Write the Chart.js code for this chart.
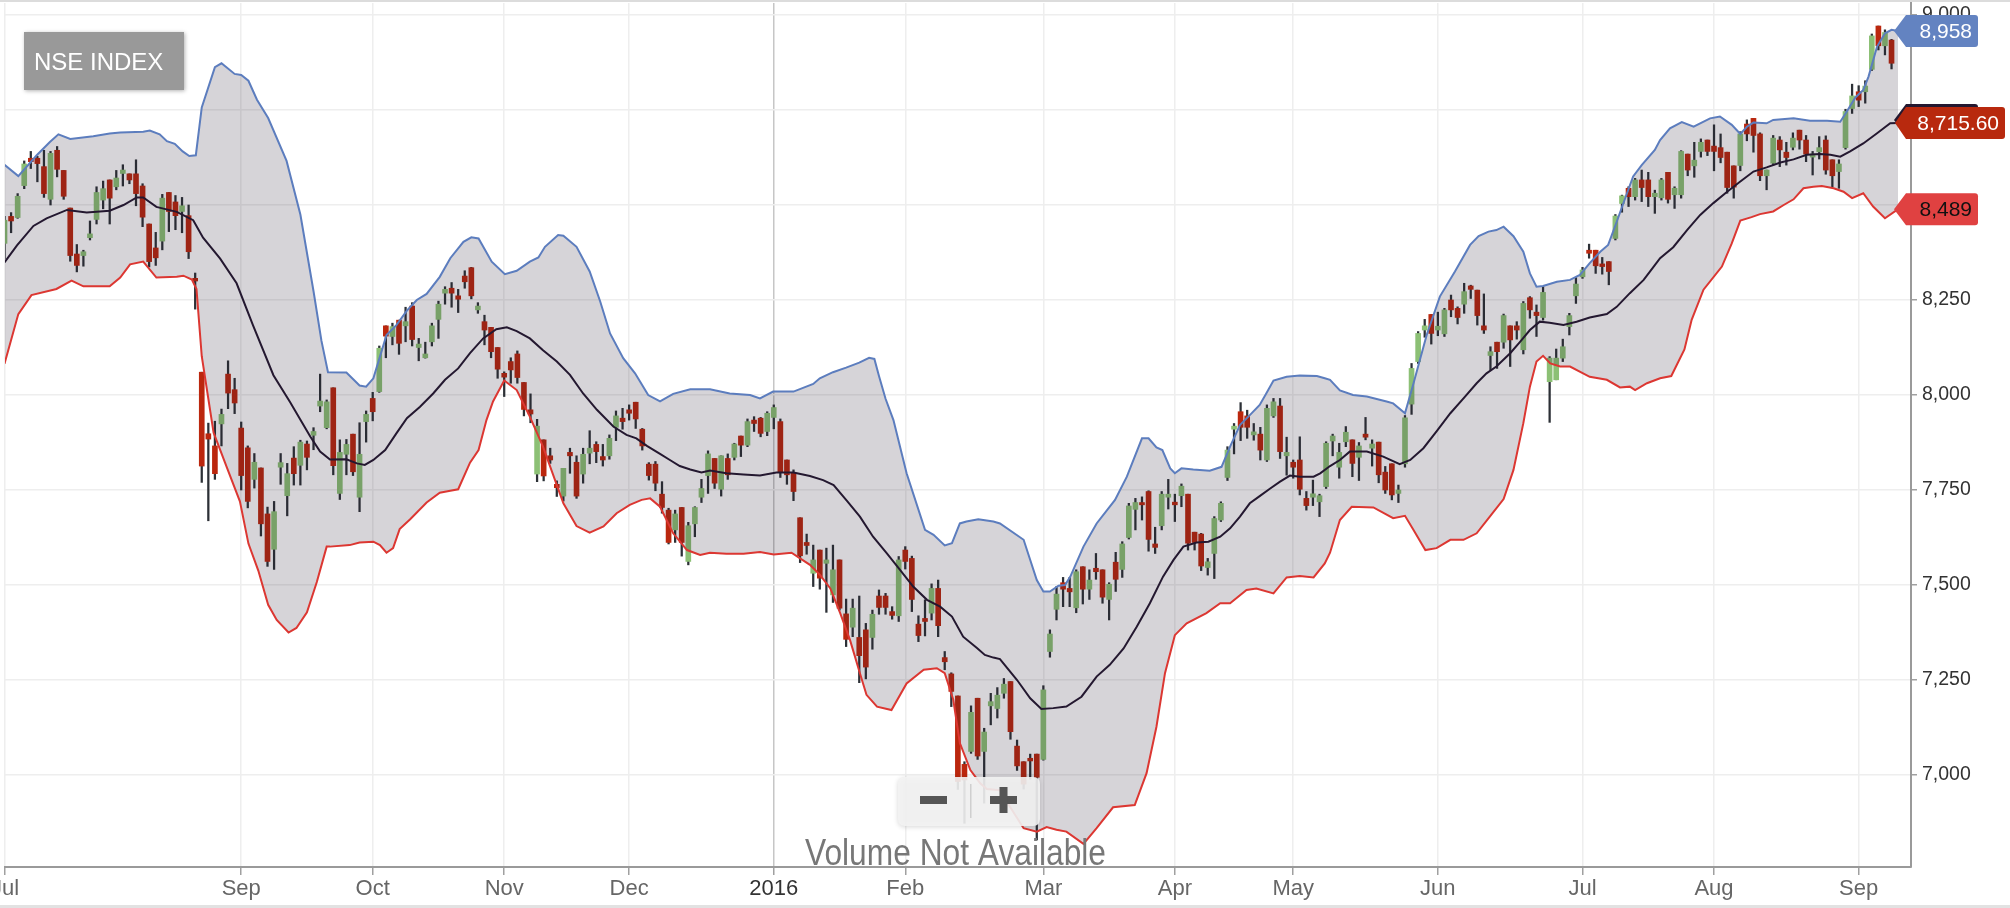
<!DOCTYPE html>
<html><head><meta charset="utf-8">
<script src="https://cdn.jsdelivr.net/npm/chart.js@4.4.1/dist/chart.umd.min.js"></script>
<style>html,body{margin:0;padding:0;background:#fff;overflow:hidden}canvas{display:block}</style>
</head><body>
<canvas id="c" width="2010" height="908"></canvas>
<script>
// ---- data (trading-day index based, NSE index daily OHLC) ----
const opens = [
8399,8470,8467,8551,8623,8623,8601,8515,8644,8591,
8492,8371,8367,8414,8462,8513,8566,8548,8583,8582,
8582,8550,8450,8387,8405,8533,8508,8483,8472,8307,
8060,7898,7866,7924,8055,8014,7913,7861,7778,7808,
7687,7594,7810,7735,7834,7815,7871,7894,7971,7914,
8019,7741,7844,7897,7731,7930,7991,8009,8182,8154,
8197,8182,8234,8125,8098,8140,8199,8268,8281,8261,
8313,8335,8224,8193,8178,8125,8057,8088,8108,8033,
7961,7792,7882,7840,7765,7734,7849,7823,7792,7847,
7870,7838,7840,7915,7939,7961,7981,7910,7818,7818,
7739,7697,7645,7704,7562,7661,7731,7788,7833,7752,
7833,7836,7892,7868,7934,7939,7904,7941,7930,7829,
7794,7677,7612,7531,7592,7557,7474,7566,7424,7389,
7362,7382,7362,7471,7471,7430,7419,7592,7570,7397,
7412,7426,7491,7309,7266,7208,7028,7062,7202,7062,
7182,7175,
7215,7246,7076,7035,7044,7055,7041,7325,7436,7506,
7491,7440,7548,7489,7544,7540,7462,7560,7541,7625,
7699,7717,7746,7608,7656,7731,7718,7735,7739,7639,
7634,7546,7583,7671,7783,7910,7956,7945,7895,7897,
7829,7945,7971,7840,7823,7829,7728,7731,7719,7759,
7879,7810,7877,7882,7836,7897,7860,7876,7797,7819,
7741,7819,7976,8088,8171,8212,8171,8161,8250,8228,
8239,8287,8276,8182,8104,8139,8139,8182,8182,8119,
8256,8218,8204,8035,8040,8097,8180,8261,8311,8381,
8381,8345,8351,8412,8504,8544,8522,8566,8566,8522,
8519,8586,8527,8527,8634,8603,8641,8671,8655,8651,
8639,8603,8604,8713,8728,8687,8577,8610,8671,8639,
8652,8697,8671,8626,8640,8671,8619,8588,8651,8754,
8798,8798,8857,8971,8919,8934];
const highs = [
8470,8480,8530,8616,8641,8628,8644,8641,8654,8591,
8492,8396,8381,8458,8548,8563,8566,8591,8606,8582,
8619,8556,8450,8428,8528,8533,8525,8520,8500,8321,
8060,7926,7931,7963,8090,8044,7929,7866,7846,7808,
7705,7720,7846,7820,7864,7881,7879,7914,8055,7987,
8019,7882,7883,7897,7927,7958,8007,8129,8182,8189,
8197,8231,8243,8149,8139,8189,8247,8285,8296,8278,
8327,8336,8243,8210,8178,8125,8061,8098,8116,8033,
8003,7936,7882,7860,7774,7807,7860,7840,7860,7906,
7877,7870,7895,7958,7965,7974,7981,7912,7822,7825,
7772,7702,7697,7704,7665,7706,7778,7853,7833,7840,
7845,7873,7892,7937,7943,7941,7956,7974,7937,7829,
7803,7677,7634,7605,7592,7597,7605,7566,7463,7463,
7471,7399,7434,7487,7478,7443,7575,7601,7576,7419,
7461,7503,7513,7325,7269,7208,7035,7182,7202,7123,
7215,7230,
7254,7246,7092,7035,7055,7055,7235,7382,7496,7520,
7520,7540,7548,7540,7583,7540,7506,7586,7614,7715,
7728,7732,7748,7652,7746,7778,7739,7766,7739,7639,
7636,7570,7680,7719,7864,7925,7980,7960,7925,7915,
7974,7991,7991,7889,7829,7890,7746,7776,7739,7877,
7897,7873,7917,7882,7875,7941,7882,7876,7812,7819,
7763,7946,8083,8167,8199,8212,8218,8228,8263,8232,
8294,8289,8276,8266,8127,8139,8213,8182,8193,8246,
8259,8237,8285,8101,8121,8147,8215,8309,8336,8397,
8381,8362,8351,8475,8526,8548,8570,8592,8586,8539,
8570,8586,8548,8643,8634,8665,8674,8671,8711,8687,
8639,8603,8693,8724,8728,8690,8592,8683,8680,8665,
8690,8697,8683,8641,8680,8682,8619,8619,8752,8818,
8814,8827,8950,8971,8961,8936];
const lows = [
8359,8427,8465,8543,8596,8561,8520,8500,8574,8515,
8352,8324,8339,8408,8450,8490,8450,8540,8550,8556,
8498,8443,8337,8341,8382,8430,8435,8427,8359,8226,
7770,7669,7778,7866,7964,7951,7750,7703,7755,7629,
7549,7541,7765,7682,7763,7763,7803,7856,7956,7911,
7790,7725,7790,7788,7693,7876,7932,8007,8098,8132,
8107,8140,8129,8090,8097,8129,8149,8239,8231,8217,
8281,8253,8215,8132,8098,8044,7996,8031,8031,7945,
7927,7772,7774,7820,7733,7721,7794,7728,7768,7819,
7822,7813,7831,7880,7910,7934,7912,7855,7776,7748,
7689,7608,7612,7576,7553,7627,7717,7741,7754,7734,
7778,7829,7838,7864,7904,7890,7893,7911,7783,7765,
7722,7559,7581,7496,7489,7428,7454,7434,7338,7364,
7243,7253,7331,7423,7423,7410,7404,7542,7430,7351,
7366,7408,7364,7277,7180,6962,6873,7057,7041,6926,
7132,7150,
7202,7094,7012,6963,6989,6829,7039,7310,7408,7443,
7443,7427,7450,7462,7515,7452,7408,7483,7520,7621,
7645,7671,7589,7583,7645,7700,7667,7706,7592,7592,
7538,7526,7517,7667,7775,7845,7880,7886,7881,7829,
7825,7941,7833,7789,7781,7737,7697,7709,7680,7754,
7840,7781,7864,7785,7775,7882,7813,7769,7741,7724,
7717,7810,7949,8083,8152,8134,8156,8154,8206,8187,
8215,8254,8184,8162,8066,8070,8123,8075,8147,8108,
8202,8154,8197,7928,8040,8088,8158,8241,8307,8360,
8320,8318,8290,8408,8481,8496,8513,8509,8496,8478,
8513,8505,8491,8518,8577,8573,8626,8630,8590,8611,
8531,8518,8590,8669,8639,8564,8540,8605,8601,8605,
8645,8647,8614,8579,8621,8581,8548,8544,8647,8741,
8759,8768,8854,8908,8895,8858];
const closes = [
8460,8458,8523,8608,8614,8609,8530,8636,8594,8523,
8367,8341,8377,8424,8533,8543,8518,8571,8592,8566,
8530,8468,8351,8361,8518,8483,8472,8498,8377,8300,
7813,7884,7793,7949,8005,7979,7788,7720,7823,7661,
7562,7693,7822,7793,7793,7876,7836,7904,7984,7982,
7814,7849,7870,7798,7844,7949,7956,8123,8155,8180,
8136,8193,8146,8134,8108,8182,8239,8278,8268,8252,
8298,8261,8234,8171,8114,8068,8047,8066,8046,7962,
7950,7918,7787,7829,7756,7807,7840,7734,7844,7860,
7851,7829,7886,7945,7930,7952,7937,7866,7788,7768,
7704,7612,7687,7612,7656,7704,7754,7845,7768,7840,
7790,7871,7868,7930,7925,7899,7952,7967,7796,7790,
7746,7577,7604,7566,7518,7566,7540,7439,7357,7439,
7314,7284,7423,7441,7441,7420,7566,7562,7462,7367,
7404,7491,7393,7298,7220,6983,6987,7165,7050,7113,
7193,7210,
7239,7114,7024,6976,7037,6994,7224,7371,7476,7489,
7482,7535,7489,7513,7535,7468,7502,7515,7608,7708,
7717,7711,7620,7599,7739,7739,7711,7760,7610,7612,
7550,7561,7675,7715,7855,7918,7915,7915,7903,7855,
7965,7982,7851,7849,7810,7752,7709,7740,7735,7873,
7892,7849,7902,7820,7866,7889,7871,7790,7750,7737,
7750,7940,8070,8162,8182,8162,8181,8224,8224,8204,
8272,8278,8209,8171,8114,8114,8209,8145,8171,8241,
8224,8209,8270,8097,8097,8127,8209,8292,8329,8373,
8340,8338,8325,8471,8524,8522,8566,8546,8522,8531,
8566,8515,8544,8641,8592,8618,8665,8641,8641,8625,
8546,8547,8687,8687,8683,8577,8592,8676,8645,8625,
8676,8671,8634,8634,8651,8592,8577,8608,8746,8787,
8776,8813,8945,8919,8954,8873];

// Bollinger band lines: [trading-day index, value]
const upperBand = [[0,8606],[2.1,8576],[4.9,8631],[6.9,8666],[8.2,8686],[10,8674],[13.5,8681],[16,8688],[17.6,8691],[21.1,8693],[22.1,8696],[23.6,8686],[24.7,8668],[25.9,8661],[27.1,8641],[28.1,8629],[29.1,8631],[30,8757],[32,8863],[33,8873],[35,8845],[36,8842],[37.1,8827],[38.4,8777],[40.1,8729],[42.9,8616],[45,8475],[47,8273],[48.2,8143],[49.2,8060],[52,8059],[54,8025],[55,8022],[56.1,8044],[57.1,8101],[58.1,8158],[59.6,8184],[61.2,8222],[62.7,8250],[64.2,8266],[66.2,8311],[67.8,8360],[69.8,8403],[71,8415],[72.1,8412],[74.1,8351],[76.1,8318],[77.9,8327],[79.9,8351],[81.2,8362],[82.2,8390],[84.2,8421],[85,8419],[87,8390],[89,8325],[90.6,8246],[92.1,8162],[94.1,8097],[95.9,8057],[97.9,8000],[99.7,7983],[101.7,8003],[104.3,8015],[107.3,8015],[110.3,8004],[113.4,8000],[114.9,7991],[116.9,8009],[120,8009],[123,8029],[124,8044],[126,8060],[128,8072],[130,8085],[131.5,8098],[132.3,8095],[133,8050],[134,7990],[135.2,7934],[137.2,7794],[140,7645],[141.3,7632],[143,7604],[144.1,7610],[145.3,7662],[146.3,7667],[148.1,7673],[150.4,7667],[151.4,7662],[155,7619],[157,7513],[158,7483],[159,7483],[160.3,7498],[161.3,7500],[162.1,7522],[164.1,7601],[166.1,7662],[168.9,7724],[170.7,7785],[173,7886],[174,7886],[175.2,7862],[176.1,7855],[177.3,7807],[178,7794],[179,7807],[180.8,7804],[183.3,7801],[185.1,7811],[186.4,7864],[187.9,7921],[189.4,7947],[190.9,7974],[191.9,8004],[193,8038],[195,8048],[197,8051],[199.6,8050],[200.8,8044],[201.6,8040],[203.1,8012],[205.1,8000],[207.2,7996],[210.2,7983],[211.2,7978],[213,7952],[214.3,8031],[216.3,8158],[218.3,8259],[220.6,8325],[222.9,8395],[224.2,8418],[225.7,8430],[226.9,8434],[228,8443],[229.5,8418],[231,8377],[232,8320],[233,8285],[234,8287],[236.1,8298],[238.1,8303],[239.6,8316],[241.1,8347],[242.7,8377],[243.9,8395],[245.2,8456],[246.2,8504],[247.7,8575],[249,8605],[251,8645],[251.8,8671],[253.3,8702],[255.1,8718],[256.9,8706],[259.4,8728],[260.9,8733],[262.7,8711],[264,8687],[265,8706],[266,8717],[268,8715],[269,8724],[272.1,8728],[274.6,8722],[277.2,8722],[279.2,8719],[280.2,8746],[281.5,8783],[282.7,8803],[283.5,8838],[284.8,8917],[286,8952],[287,8961],[288,8958]];
const middleBand = [[0,8349],[1.9,8394],[4.4,8445],[6.4,8465],[9.5,8487],[12.5,8480],[16,8485],[18.1,8500],[20.1,8520],[21.1,8520],[23.1,8495],[26.2,8482],[28.7,8460],[30.2,8414],[32.8,8359],[35.3,8294],[37.8,8183],[40.9,8052],[43.4,7982],[46.5,7891],[48,7851],[49.5,7830],[52,7831],[53.6,7820],[54.8,7816],[56.1,7829],[57.9,7855],[59.6,7899],[61.2,7939],[63.2,7969],[65.2,8004],[67,8040],[69,8070],[70.8,8110],[72.8,8149],[74.8,8173],[76.4,8178],[77.9,8168],[79.9,8149],[81.9,8118],[84,8088],[86,8053],[88,8004],[90.1,7961],[92.6,7917],[94.6,7895],[96.1,7886],[97.7,7866],[99.7,7845],[101.2,7829],[102.7,7813],[104.3,7804],[106,7796],[107.3,7801],[109.8,7794],[112.4,7791],[114.9,7788],[117.4,7796],[120,7796],[122.5,7787],[124.5,7776],[126.1,7763],[128.1,7722],[130.1,7680],[132.1,7627],[134.2,7583],[136.2,7540],[138.2,7496],[140.3,7461],[142.3,7443],[144.1,7417],[145.8,7364],[147.9,7334],[149.1,7316],[150.4,7309],[151.4,7305],[154,7250],[156,7202],[157.7,7174],[159.5,7176],[161.5,7180],[163.8,7206],[166.1,7259],[168.1,7290],[170.2,7333],[172.2,7390],[174.2,7452],[176.2,7522],[177.8,7566],[179.3,7601],[181.3,7612],[183.1,7614],[184.9,7627],[186.4,7649],[187.9,7680],[189.4,7715],[190.9,7734],[192.5,7754],[194,7772],[195.5,7788],[197,7785],[199.1,7785],[200.1,7794],[201.6,7813],[203.1,7829],[204.6,7851],[207.2,7851],[209.7,7838],[212.2,7818],[213.8,7829],[215.8,7860],[217.8,7904],[219.9,7952],[221.9,7991],[223.9,8031],[225.4,8057],[226.9,8075],[229,8110],[230.5,8140],[232,8171],[233.5,8193],[235,8190],[237.1,8184],[239.1,8193],[241.1,8204],[243.7,8213],[245.2,8232],[247.2,8268],[249.3,8303],[251,8342],[251.8,8360],[253.8,8389],[255.9,8434],[257.9,8474],[259.9,8505],[262,8535],[264,8562],[266,8588],[268,8599],[270.1,8612],[272.1,8620],[274.1,8632],[276.1,8634],[277.7,8632],[279.2,8627],[280.7,8641],[282.7,8662],[284.8,8689],[286.8,8715],[288,8716]];
const lowerBand = [[0,8082],[2.1,8213],[4.1,8263],[7.9,8279],[10.2,8301],[12,8286],[16,8286],[17.6,8309],[19.1,8344],[21.1,8351],[23.1,8309],[26.2,8311],[27.2,8314],[28.5,8304],[29.2,8279],[30,8102],[31.8,7901],[33.8,7810],[35.8,7720],[37.1,7609],[38.6,7538],[40.1,7448],[41.4,7408],[43.2,7375],[44.4,7387],[46,7428],[47.5,7508],[49,7601],[49.5,7601],[52.5,7605],[54,7612],[56.1,7614],[57.1,7605],[58.1,7585],[59.1,7597],[60.1,7647],[61.7,7673],[64.2,7717],[66.2,7743],[67.8,7748],[69,7752],[70.8,7822],[72.1,7855],[73.3,7934],[74.3,7983],[76,8038],[77.9,8013],[79.9,7943],[81.9,7864],[85,7715],[87,7655],[89,7638],[91.1,7654],[93.1,7689],[95.1,7711],[96.9,7724],[98.2,7728],[99.7,7706],[101.7,7636],[103.8,7592],[105.8,7579],[107.3,7585],[109.8,7582],[112.4,7582],[114.9,7587],[117,7580],[119.7,7585],[121,7570],[122.5,7553],[124,7527],[125.6,7491],[127.1,7426],[128.6,7355],[130.1,7268],[131.1,7211],[132.7,7180],[134.9,7171],[137.2,7241],[139.8,7277],[141.8,7281],[143,7268],[144.3,7198],[145.3,7084],[146.9,7013],[148.4,6978],[149.4,6963],[151.4,6960],[152.9,6917],[155,6860],[157,6851],[158.5,6863],[160,6856],[161.5,6851],[164.1,6819],[166.1,6860],[168.6,6915],[171.9,6921],[173.7,7005],[175.2,7127],[176.5,7268],[178,7368],[179.8,7399],[182.8,7426],[184.9,7452],[186.4,7452],[188.9,7487],[190.4,7491],[193,7478],[195,7520],[197,7524],[199.1,7520],[200.8,7557],[201.6,7585],[203.1,7671],[204.9,7706],[208.2,7704],[211.2,7676],[213,7682],[214.3,7645],[216.1,7592],[217.8,7597],[219.9,7619],[221.9,7619],[223.9,7636],[225.9,7680],[228,7726],[229.5,7803],[231,7926],[232,8022],[233,8088],[234,8103],[235.1,8083],[236.6,8075],[238.1,8075],[241.1,8048],[243.7,8040],[245.7,8020],[247.2,8022],[248,8013],[249.8,8031],[251.8,8044],[253.5,8050],[255.5,8120],[256.6,8198],[258.4,8277],[261.2,8338],[262.7,8399],[264,8459],[265.7,8468],[267,8476],[269,8483],[270.6,8500],[272.1,8515],[273.6,8544],[275.1,8548],[276.4,8550],[278.2,8544],[279.7,8535],[281,8518],[282.7,8531],[284.2,8496],[286,8465],[288,8489]];

const monthTickIdx = [0.1, 36, 56, 76, 95, 117, 137, 158, 178, 196, 218, 240, 260, 282];
const monthLabels = ['Jul','Sep','Oct','Nov','Dec','2016','Feb','Mar','Apr','May','Jun','Jul','Aug','Sep'];
const yTicks = [7000, 7250, 7500, 7750, 8000, 8250, 8500, 8750, 9000];
const yTicksHiddenByLabels = [8750];
const upperLast = 8958, middleLast = 8715.60, lowerLast = 8489;
const titleText = 'NSE INDEX';
const volumeNote = 'Volume Not Available';

// ---- styling ----
const FONT = '"Liberation Sans", Arial, Helvetica, sans-serif';
const UP = '#8cc075', DOWN = '#bb270e', WICK = '#2c3036';
const BAND_FILL = 'rgba(36,24,50,0.19)';
const X_MIN = 0.076, X_MAX = 289.96, Y_MIN = 6757.9, Y_MAX = 9031.6;

const idx = closes.map((_, i) => i);
const wickData = idx.map(i => ({x: i, y: [lows[i], highs[i]]}));
const bodyData = idx.map(i => ({x: i, y: [opens[i], closes[i]]}));
const bodyColors = idx.map(i => closes[i] >= opens[i] ? UP : DOWN);
const toXY = arr => arr.map(p => ({x: p[0], y: p[1]}));

function rrect(c, x, y, w, h, r) {
  c.beginPath();
  c.moveTo(x + r, y); c.lineTo(x + w - r, y); c.quadraticCurveTo(x + w, y, x + w, y + r);
  c.lineTo(x + w, y + h - r); c.quadraticCurveTo(x + w, y + h, x + w - r, y + h);
  c.lineTo(x + r, y + h); c.quadraticCurveTo(x, y + h, x, y + h - r);
  c.lineTo(x, y + r); c.quadraticCurveTo(x, y, x + r, y); c.closePath();
}
function callout(c, tipX, y, left, right, fill, text, textColor) {
  const h = 32, top = y - h / 2, bot = y + h / 2, r = 3;
  c.beginPath();
  c.moveTo(tipX, y); c.lineTo(left, top); c.lineTo(right - r, top);
  c.quadraticCurveTo(right, top, right, top + r); c.lineTo(right, bot - r);
  c.quadraticCurveTo(right, bot, right - r, bot); c.lineTo(left, bot); c.closePath();
  c.fillStyle = fill; c.fill();
  c.fillStyle = textColor; c.font = '21px ' + FONT; c.textAlign = 'right'; c.textBaseline = 'middle';
  c.fillText(text, right - 6, y + 1);
}

const overlay = {
  id: 'overlay',
  afterDraw(chart) {
    const c = chart.ctx, ys = chart.scales.y;
    c.save();
    // container borders
    c.fillStyle = '#dcdcdc'; c.fillRect(0, 0, 2010, 2);
    c.fillStyle = '#e2e2e2'; c.fillRect(0, 905, 2010, 3);
    // title box
    c.save();
    c.shadowColor = 'rgba(0,0,0,0.3)'; c.shadowBlur = 4; c.shadowOffsetX = 1; c.shadowOffsetY = 1;
    c.fillStyle = '#999999'; c.fillRect(24, 32, 160, 58);
    c.restore();
    c.fillStyle = '#ffffff'; c.font = '24px ' + FONT; c.textAlign = 'left'; c.textBaseline = 'alphabetic';
    c.fillText(titleText, 34, 70);
    // zoom buttons
    c.save();
    c.shadowColor = 'rgba(0,0,0,0.18)'; c.shadowBlur = 5; c.shadowOffsetY = 1;
    rrect(c, 898, 777, 142, 49, 7); c.fillStyle = 'rgba(243,243,243,0.9)'; c.fill();
    c.restore();
    c.fillStyle = '#555'; c.fillRect(920, 796, 27, 8);
    c.fillRect(990, 796, 27, 8); c.fillRect(999.5, 787, 8, 26);
    c.fillStyle = '#cfcfcf'; c.fillRect(970, 784, 1.5, 34);
    // volume note
    c.save();
    c.font = '36px ' + FONT; c.fillStyle = '#777';
    const w = c.measureText(volumeNote).width, sx = 301 / w;
    c.translate(955.5, 865); c.scale(sx, 1);
    c.textAlign = 'center'; c.textBaseline = 'alphabetic';
    c.fillText(volumeNote, 0, 0);
    c.restore();
    // last value labels
    const yu = ys.getPixelForValue(upperLast), ym = ys.getPixelForValue(middleLast), yl = ys.getPixelForValue(lowerLast);
    callout(c, 1894, yu, 1906, 1978, '#6383c1', upperLast.toLocaleString('en-US'), '#ffffff');
    callout(c, 1894, ym - 3, 1906, 1978, '#241830', '', '#ffffff');
    callout(c, 1895, ym, 1906, 2005, '#b8290e', middleLast.toLocaleString('en-US', {minimumFractionDigits: 2}), '#ffffff');
    callout(c, 1894, yl, 1906, 1978, '#e04141', lowerLast.toLocaleString('en-US'), '#111111');
    c.restore();
  }
};

new Chart(document.getElementById('c').getContext('2d'), {
  type: 'bar',
  data: { datasets: [
    {type: 'bar', data: wickData, backgroundColor: WICK, barThickness: 1.6, grouped: false, order: 20, minBarLength: 1, borderWidth: 0},
    {type: 'bar', data: bodyData, backgroundColor: bodyColors, barThickness: 5, grouped: false, order: 19, minBarLength: 1.5, borderWidth: 0},
    {type: 'line', data: toXY(upperBand), borderColor: '#5c7dbe', borderWidth: 2, pointRadius: 0, tension: 0, fill: 4, backgroundColor: BAND_FILL, order: 3},
    {type: 'line', data: toXY(middleBand), borderColor: '#241830', borderWidth: 2, pointRadius: 0, tension: 0, fill: false, order: 2},
    {type: 'line', data: toXY(lowerBand), borderColor: '#dc3732', borderWidth: 2, pointRadius: 0, tension: 0, fill: false, order: 1}
  ]},
  options: {
    responsive: false, animation: false, devicePixelRatio: 1,
    layout: {padding: {left: 5, top: 3, right: 0, bottom: 0}},
    plugins: {legend: {display: false}, tooltip: {enabled: false}},
    scales: {
      x: {
        type: 'linear', position: 'bottom', min: X_MIN, max: X_MAX, offset: false,
        afterBuildTicks: s => { s.ticks = monthTickIdx.map(v => ({value: v})); },
        afterFit: s => { s.height = 41; s.paddingLeft = 0; s.paddingRight = 0; },
        grid: {offset: false, color: c => (c.tick && c.tick.value === 117) ? '#c6c6c6' : '#eeeeee', lineWidth: 1.5, tickLength: 8, tickColor: '#a0a0a0', tickWidth: 1.5},
        border: {display: true, color: '#9a9a9a', width: 2},
        ticks: {autoSkip: false, maxRotation: 0, minRotation: 0, padding: 1,
          color: c => (c.tick && c.tick.value === 117) ? '#333333' : '#666666',
          font: {size: 22, family: FONT},
          callback: (v, i) => monthLabels[i]}
      },
      y: {
        type: 'linear', position: 'right', min: Y_MIN, max: Y_MAX,
        afterBuildTicks: s => { s.ticks = yTicks.map(v => ({value: v})); },
        afterFit: s => { s.width = 99; s.paddingTop = 0; s.paddingBottom = 0; },
        grid: {color: '#eeeeee', lineWidth: 1.5, tickLength: 6, tickColor: '#a0a0a0', tickWidth: 1.5},
        border: {display: true, color: '#9a9a9a', width: 2},
        ticks: {padding: 5, color: '#333333', font: {size: 19.5, family: FONT},
          callback: v => yTicksHiddenByLabels.includes(v) ? '' : v.toLocaleString('en-US')}
      }
    }
  },
  plugins: [overlay]
});
</script></body></html>
